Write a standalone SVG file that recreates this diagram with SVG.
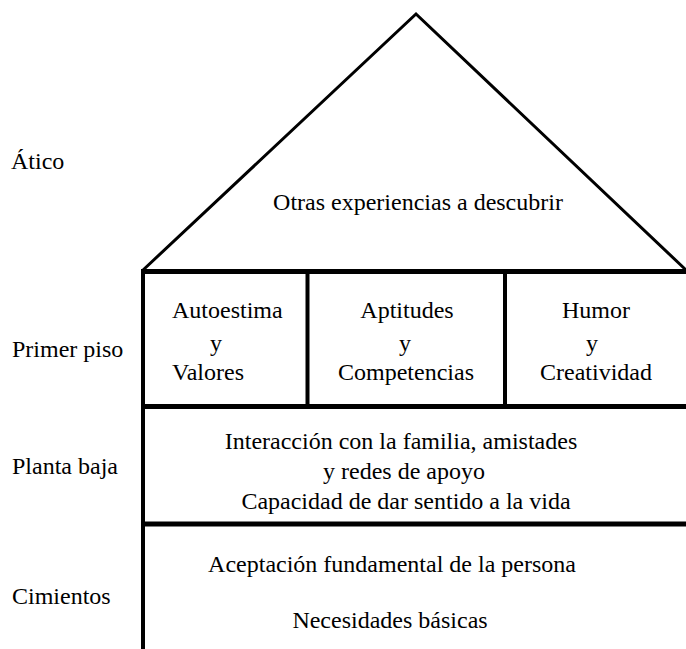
<svg xmlns="http://www.w3.org/2000/svg" width="686" height="649" viewBox="0 0 686 649">
<style>
text{font-family:"Liberation Serif","Times New Roman",Times,Tinos,"DejaVu Serif","Noto Serif","Nimbus Roman","FreeSerif",serif;font-size:24px;fill:#000}
.c{text-anchor:middle}
.thin{stroke:#000;stroke-width:3;fill:none;stroke-linejoin:miter}
.thick{stroke:#000;stroke-width:5;fill:none}
.wall{stroke:#000;stroke-width:4;fill:none}
</style>
<rect width="686" height="649" fill="#fff"/>
<g id="connectors">
<polyline class="thin" points="142,271 416,14 686,270"/>
<line class="thick" x1="141" y1="271.5" x2="686" y2="271.5"/>
<line class="wall" x1="143" y1="270" x2="143" y2="649"/>
<line class="wall" x1="307.5" y1="272" x2="307.5" y2="406"/>
<line class="wall" x1="505" y1="272" x2="505" y2="406"/>
<line class="thick" x1="141" y1="406.5" x2="686" y2="406.5"/>
<line class="thick" x1="141" y1="524" x2="686" y2="524"/>
</g>
<g id="labels">
<text x="11" y="169">Ático</text>
<text x="12" y="357">Primer piso</text>
<text x="12" y="474">Planta baja</text>
<text x="12" y="604">Cimientos</text>
</g>
<g id="attic"><text class="c" x="418" y="210">Otras experiencias a descubrir</text></g>
<g id="autoestima">
<text x="172" y="318">Autoestima</text>
<text class="c" x="216" y="351">y</text>
<text x="172" y="380">Valores</text>
</g>
<g id="aptitudes">
<text class="c" x="407" y="318">Aptitudes</text>
<text class="c" x="405" y="351">y</text>
<text class="c" x="406" y="380">Competencias</text>
</g>
<g id="humor">
<text class="c" x="596" y="318">Humor</text>
<text class="c" x="592" y="351">y</text>
<text class="c" x="596" y="380">Creatividad</text>
</g>
<g id="planta-baja">
<text class="c" x="401" y="449">Interacción con la familia, amistades</text>
<text class="c" x="404" y="479">y redes de apoyo</text>
<text class="c" x="406" y="509">Capacidad de dar sentido a la vida</text>
</g>
<g id="cimientos">
<text class="c" x="392" y="572">Aceptación fundamental de la persona</text>
<text class="c" x="390" y="628">Necesidades básicas</text>
</g>
</svg>
